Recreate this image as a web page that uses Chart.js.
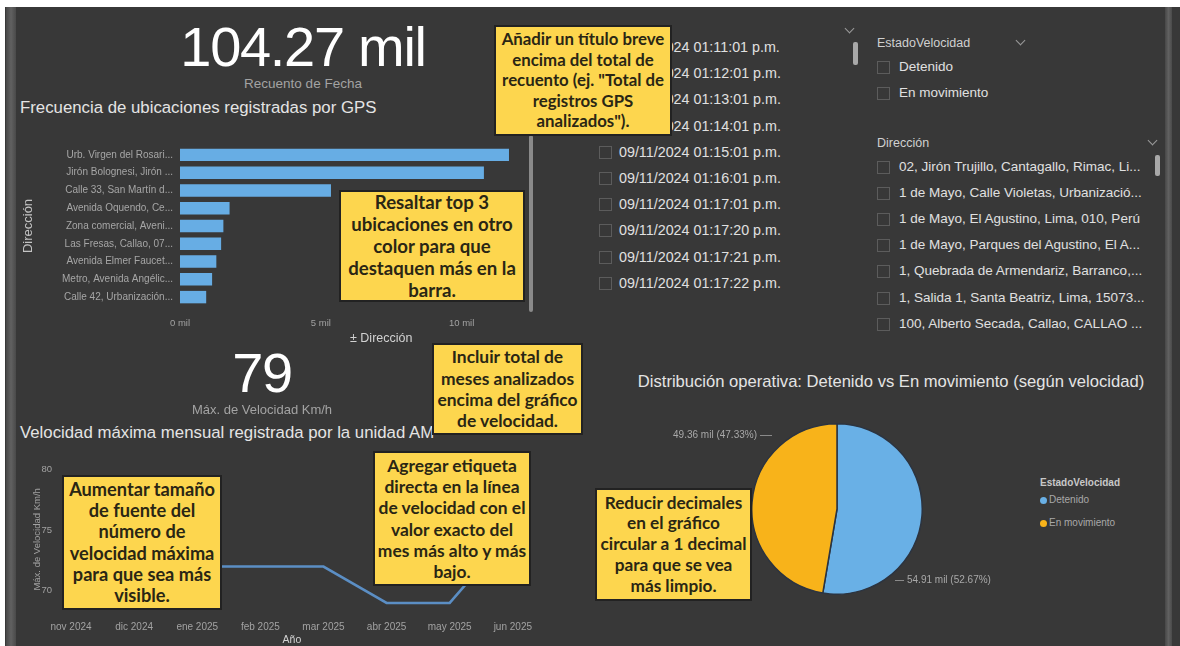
<!DOCTYPE html>
<html lang="es">
<head>
<meta charset="utf-8">
<script src="https://cdn.jsdelivr.net/npm/chart.js@4.4.1/dist/chart.umd.min.js"></script>
<style>
  html, body { margin: 0; padding: 0; }
  body {
    width: 1180px; height: 646px; position: relative; overflow: hidden;
    background: #fff; font-family: "Liberation Sans", Arial, sans-serif;
  }
  .abs { position: absolute; white-space: nowrap; }
  #page { left: 5px; top: 7px; width: 1175px; height: 639px; background: #383838; }
  .stripe { background: linear-gradient(to right, #474747, #616161, #4a4a4a); }
  .kpi { color: #fff; font-size: 56px; line-height: 56px; letter-spacing: -1.3px; text-align: center; width: 300px; }
  .kpi-sub { color: #a3a3a3; font-size: 13.5px; line-height: 14px; text-align: center; width: 300px; }
  .title { color: #e4e4e4; font-size: 16.8px; line-height: 16px; }
  .row { font-size: 13.5px; line-height: 14px; color: #e0e0e0; }
  .row .box { position: absolute; left: 0; top: 1px; width: 11px; height: 11px; border: 1px solid #5c5c5c; }
  .row span { position: absolute; top: 0; }
  .chev { width: 6px; height: 6px; border-right: 1.5px solid #9a9a9a; border-bottom: 1.5px solid #9a9a9a; transform: rotate(45deg); }
  .thumb { background: #a8a8a8; border-radius: 2px; }
  .note {
    background: #fdd64e; border: 2px solid #222; box-sizing: border-box;
    color: #2a2614; font-family: Lato, "Open Sans", sans-serif; font-weight: 700;
    display: flex; flex-direction: column; justify-content: center; align-items: center;
    text-align: center; white-space: nowrap;
  }
  .small { color: #a8a8a8; font-size: 10px; line-height: 11px; }
  .dot { display: inline-block; width: 7px; height: 7px; border-radius: 50%; margin-right: 2px; vertical-align: -1px; }
</style>
</head>
<body>
<div id="page" class="abs"></div>
<div class="abs stripe" style="left:6px;top:7px;width:10px;height:639px;"></div>
<div class="abs stripe" style="left:1165px;top:7px;width:7px;height:639px;"></div>

<div id="kpiTotal" class="abs kpi" style="left:153px;top:19px;"></div>
<div class="abs kpi-sub" style="left:153px;top:77px;">Recuento de Fecha</div>
<div class="abs title" style="left:20px;top:100px;">Frecuencia de ubicaciones registradas por GPS</div>
<canvas id="gBarras" class="abs" width="512" height="214" style="left:20px;top:133px;"></canvas>
<div class="abs thumb" style="left:529px;top:135px;width:4px;height:177px;background:#8a8a8a;"></div>
<div class="abs" style="left:350px;top:331px;color:#d2d2d2;font-size:12.5px;line-height:14px;">± Dirección</div>

<div id="kpiMax" class="abs kpi" style="left:112px;top:345px;"></div>
<div class="abs kpi-sub" style="left:112px;top:403px;font-size:13px;">Máx. de Velocidad Km/h</div>
<div class="abs title" style="left:20px;top:425px;">Velocidad máxima mensual registrada por la unidad AM</div>
<canvas id="gVelocidad" class="abs" width="514" height="201" style="left:30px;top:445px;"></canvas>

<div id="listaFechas" class="abs" style="left:599px;top:40px;width:245px;height:251px;overflow:hidden;"></div>
<div class="abs chev" style="left:846px;top:25px;"></div>
<div class="abs thumb" style="left:853px;top:42px;width:5px;height:23px;"></div>

<div class="abs row" style="left:877px;top:36px;font-size:12.5px;color:#d0d0d0;">EstadoVelocidad</div>
<div class="abs chev" style="left:1017px;top:37px;"></div>
<div id="listaEstado" class="abs" style="left:877px;top:60px;width:200px;height:60px;"></div>
<div class="abs row" style="left:877px;top:136px;font-size:12.5px;color:#d0d0d0;">Dirección</div>
<div class="abs chev" style="left:1149px;top:137px;"></div>
<div class="abs thumb" style="left:1155px;top:155px;width:5px;height:21px;"></div>
<div id="listaDireccion" class="abs" style="left:877px;top:160px;width:280px;height:180px;"></div>

<div id="tituloPie" class="abs title" style="left:626px;top:374px;width:530px;text-align:center;font-size:16.6px;">Distribución operativa: Detenido vs En movimiento (según velocidad)</div>
<canvas id="gEstado" class="abs" width="172" height="172" style="left:751px;top:423px;"></canvas>
<div id="pieEtiquetas"></div>
<div id="pieLeyenda" class="abs small" style="left:1040px;top:477px;line-height:12px;"></div>

<div id="notas"></div>

<script>
  const barCategories = [
    "Urb. Virgen del Rosari...",
    "Jirón Bolognesi, Jirón ...",
    "Calle 33, San Martín d...",
    "Avenida Oquendo, Ce...",
    "Zona comercial, Aveni...",
    "Las Fresas, Callao, 07...",
    "Avenida Elmer Faucet...",
    "Metro, Avenida Angélic...",
    "Calle 42, Urbanización...",
  ];
  const barValues = [11680, 10790, 5360, 1760, 1540, 1460, 1290, 1140, 930];
  const barTicks = [0, 5000, 10000];

  const months = ["nov 2024", "dic 2024", "ene 2025", "feb 2025", "mar 2025", "abr 2025", "may 2025", "jun 2025"];
  const maxSpeed = [79, 75, 72, 72, 72, 69, 69, 75];
  const speedTicks = [70, 75, 80];

  const estados = ["Detenido", "En movimiento"];
  const estadoValues = [54914, 49356];
  const estadoColors = ["#69b0e6", "#f8b31a"];

  const fechaItems = [
    "09/11/2024 01:11:01 p.m.",
    "09/11/2024 01:12:01 p.m.",
    "09/11/2024 01:13:01 p.m.",
    "09/11/2024 01:14:01 p.m.",
    "09/11/2024 01:15:01 p.m.",
    "09/11/2024 01:16:01 p.m.",
    "09/11/2024 01:17:01 p.m.",
    "09/11/2024 01:17:20 p.m.",
    "09/11/2024 01:17:21 p.m.",
    "09/11/2024 01:17:22 p.m.",
  ];
  const direccionItems = [
    "02, Jirón Trujillo, Cantagallo, Rimac, Li...",
    "1 de Mayo, Calle Violetas, Urbanizació...",
    "1 de Mayo, El Agustino, Lima, 010, Perú",
    "1 de Mayo, Parques del Agustino, El A...",
    "1, Quebrada de Armendariz, Barranco,...",
    "1, Salida 1, Santa Beatriz, Lima, 15073...",
    "100, Alberto Secada, Callao, CALLAO ...",
  ];

  const notas = [
    { x: 494, y: 25, w: 178, h: 111, size: 16.8, lh: 20.5, lines: ["Añadir un título breve", "encima del total de", "recuento (ej. \"Total de", "registros GPS", "analizados\")."] },
    { x: 339, y: 190, w: 186, h: 112, size: 18.6, lh: 22, lines: ["Resaltar top 3", "ubicaciones en otro", "color para que", "destaquen más en la", "barra."] },
    { x: 432, y: 343, w: 151, h: 92, size: 17.4, lh: 21.3, lines: ["Incluir total de", "meses analizados", "encima del gráfico", "de velocidad."] },
    { x: 62, y: 475, w: 160, h: 135, size: 18.2, lh: 21.2, lines: ["Aumentar tamaño", "de fuente del", "número de", "velocidad máxima", "para que sea más", "visible."] },
    { x: 373, y: 451, w: 158, h: 135, size: 17.4, lh: 21.2, lines: ["Agregar etiqueta", "directa en la línea", "de velocidad con el", "valor exacto del", "mes más alto y más", "bajo."] },
    { x: 595, y: 488, w: 157, h: 113, size: 17.2, lh: 20.8, lines: ["Reducir decimales", "en el gráfico", "circular a 1 decimal", "para que se vea", "más limpio."] },
  ];

  const total = estadoValues.reduce((a, b) => a + b, 0);
  const formatMil = (v) => `${(v / 1000).toFixed(2)} mil`;

  function setKpis() {
    document.getElementById("kpiTotal").textContent = formatMil(total);
    document.getElementById("kpiMax").textContent = Math.max(...maxSpeed);
  }

  function fillList(id, items, step, size) {
    const list = document.getElementById(id);
    list.innerHTML = items
      .map((t, i) => `<div class="abs row" style="left:0;top:${(i * step).toFixed(1)}px;height:14px;width:100%;font-size:${size}px;">
          <div class="box"></div><span style="left:${id === "listaFechas" ? 20 : 22}px">${t}</span></div>`)
      .join("");
  }

  function setNotas() {
    document.getElementById("notas").innerHTML = notas
      .map((n) => `<div class="abs note" style="left:${n.x}px;top:${n.y}px;width:${n.w}px;height:${n.h}px;font-size:${n.size}px;line-height:${n.lh}px;">
          ${n.lines.map((l) => `<div>${l}</div>`).join("")}</div>`)
      .join("");
  }

  function gBarras() {
    const ctx = document.getElementById("gBarras").getContext("2d");
    return new Chart(ctx, {
      type: "bar",
      data: {
        labels: barCategories,
        datasets: [{ data: barValues, backgroundColor: "#67ade4", barPercentage: 0.7, categoryPercentage: 1 }],
      },
      options: {
        indexAxis: "y",
        responsive: false,
        animation: false,
        devicePixelRatio: 1,
        layout: { padding: { top: 2, right: 14 } },
        plugins: { legend: { display: false }, tooltip: { enabled: false } },
        scales: {
          x: {
            min: 0,
            max: 12000,
            grid: { display: false, drawTicks: false },
            border: { display: false },
            afterBuildTicks: (s) => { s.ticks = barTicks.map((v) => ({ value: v })); },
            ticks: { color: "#a2a2a2", font: { size: 9.5 }, padding: 12, maxRotation: 0, callback: (v) => `${v / 1000} mil` },
            afterFit: (s) => { s.height = 41; },
          },
          y: {
            grid: { display: false, drawTicks: false },
            border: { display: false },
            ticks: { color: "#a6a6a6", font: { size: 10 }, padding: 7, autoSkip: false },
            title: { display: true, text: "Dirección", color: "#c4c4c4", font: { size: 13 }, padding: 1 },
            afterFit: (s) => { s.width = 160; },
          },
        },
      },
    });
  }

  function gVelocidad() {
    const ctx = document.getElementById("gVelocidad").getContext("2d");
    return new Chart(ctx, {
      type: "line",
      data: {
        labels: months,
        datasets: [{ data: maxSpeed, borderColor: "#5b8ec4", borderWidth: 2.5, pointRadius: 0, tension: 0 }],
      },
      options: {
        responsive: false,
        animation: false,
        devicePixelRatio: 1,
        layout: { padding: { top: 10, right: 30 } },
        plugins: { legend: { display: false }, tooltip: { enabled: false } },
        scales: {
          x: {
            offset: false,
            grid: { display: false, drawTicks: false },
            border: { display: false },
            ticks: { color: "#a2a2a2", font: { size: 10 }, padding: 12, maxRotation: 0, autoSkip: false },
            title: { display: true, text: "Año", color: "#d2d2d2", font: { size: 10.5 }, padding: 0 },
            afterFit: (s) => { s.height = 37; },
          },
          y: {
            min: 68.5,
            max: 80,
            grid: { display: false, drawTicks: false },
            border: { display: false },
            afterBuildTicks: (s) => { s.ticks = speedTicks.map((v) => ({ value: v })); },
            ticks: { color: "#a2a2a2", font: { size: 9.5 }, padding: 19 },
            title: { display: true, text: "Máx. de Velocidad Km/h", color: "#a2a2a2", font: { size: 9.5 }, padding: 2 },
            afterFit: (s) => { s.width = 41; },
          },
        },
      },
    });
  }

  function gEstado() {
    const ctx = document.getElementById("gEstado").getContext("2d");
    return new Chart(ctx, {
      type: "pie",
      data: {
        labels: estados,
        datasets: [{ data: estadoValues, backgroundColor: estadoColors, borderColor: "#2c3440", borderWidth: 1.5 }],
      },
      options: {
        responsive: false,
        animation: false,
        devicePixelRatio: 1,
        plugins: { legend: { display: false }, tooltip: { enabled: false } },
      },
    });
  }

  function setPieTexts() {
    const pct = (v) => `${formatMil(v)} (${((v / total) * 100).toFixed(2)}%)`;
    document.getElementById("pieEtiquetas").innerHTML = `
      <div class="abs small" style="left:600px;top:429px;width:157px;text-align:right;">${pct(estadoValues[1])}</div>
      <div class="abs" style="left:760px;top:435px;width:12px;height:1px;background:#8a8a8a;"></div>
      <div class="abs" style="left:895px;top:580px;width:9px;height:1px;background:#8a8a8a;"></div>
      <div class="abs small" style="left:907px;top:574px;">${pct(estadoValues[0])}</div>`;
    document.getElementById("pieLeyenda").innerHTML =
      `<div style="font-weight:bold;color:#c8c8c8;margin-bottom:5px;">EstadoVelocidad</div>` +
      estados
        .map((e, i) => `<div style="margin-bottom:${i ? 0 : 11}px;"><span class="dot" style="background:${estadoColors[i]}"></span>${e}</div>`)
        .join("");
  }

  setKpis();
  fillList("listaFechas", fechaItems, 26.2, 14.3);
  fillList("listaEstado", estados, 26, 13.5);
  fillList("listaDireccion", direccionItems, 26.1, 13.5);
  gBarras();
  gVelocidad();
  gEstado();
  setPieTexts();
  setNotas();
</script>
</body>
</html>
